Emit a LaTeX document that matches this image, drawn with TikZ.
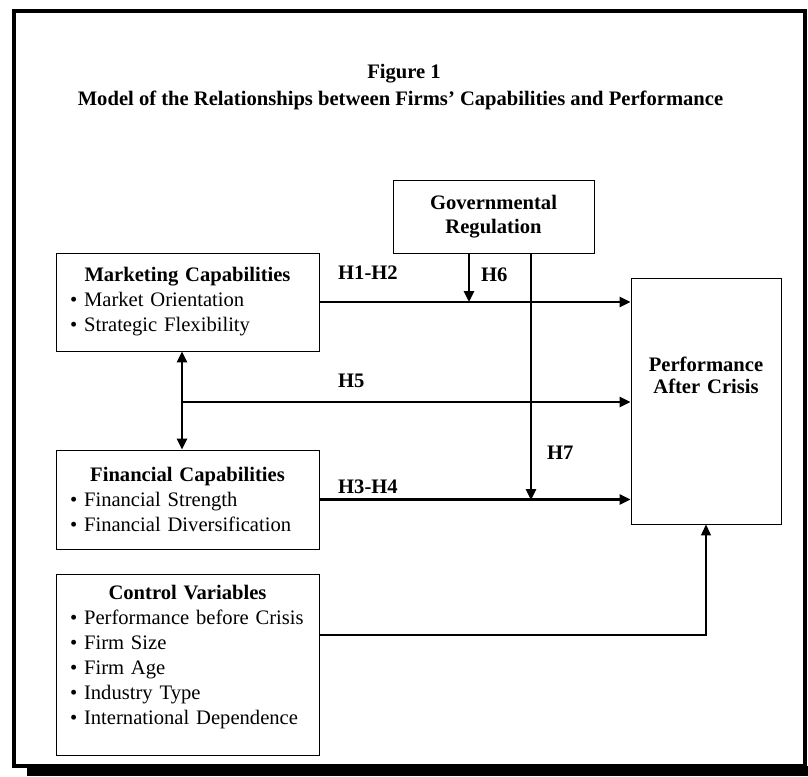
\documentclass[tikz,border=0pt]{standalone}
\usepackage{fontspec}
\setmainfont{Liberation Serif}
\usetikzlibrary{arrows.meta}

\begin{document}
\begin{tikzpicture}[x=1pt, y=-1pt,
    every node/.style={font=\fontsize{20.6}{25}\selectfont},
    box/.style={draw, line width=0.9pt, inner xsep=14pt, inner ysep=0pt, align=left},
    hbox/.style={draw, line width=0.9pt, inner xsep=0pt, inner ysep=0pt, align=center, font=\fontsize{20.6}{24}\selectfont\bfseries},
    arrow/.style={-{Triangle[length=11pt,width=10pt]}, line width=2.6pt},
    dblarrow/.style={{Triangle[length=11pt,width=10pt]}-{Triangle[length=11pt,width=10pt]}, line width=2.6pt},
    ctlarrow/.style={-{Triangle[length=11pt,width=10pt]}, line width=1.2pt},
    hyp/.style={font=\fontsize{20.6}{25}\selectfont\bfseries, anchor=base west, inner sep=0pt}
]
    \useasboundingbox (0,0) rectangle (808,776);
    % frame and its shadow
    \fill (27,766) rectangle (808,776);
    \draw[line width=4pt] (14,11) rectangle (805,766);

    % heading
    \node[font=\fontsize{20.6}{25}\selectfont\bfseries, anchor=base] (fig) at (404,78) {Figure 1};
    \node[font=\fontsize{20.6}{25}\selectfont\bfseries, anchor=base] (title) at (400.5,105)
        {Model of the Relationships between Firms’ Capabilities and Performance};

    % boxes
    \node[box, text width=235pt, minimum height=98pt] (mkt) at (187.5,302)
        {{\centering\bfseries Marketing Capabilities\par}
         \textbullet\ Market Orientation\\
         \textbullet\ Strategic Flexibility};
    \node[box, text width=235pt, minimum height=99pt] (fin) at (187.5,499.5)
        {{\centering\bfseries Financial Capabilities\par}
         \textbullet\ Financial Strength\\
         \textbullet\ Financial Diversification};
    \node[box, text width=235pt, minimum height=181pt] (ctrl) at (187.5,664.5)
        {{\centering\bfseries Control Variables\par}
         \textbullet\ Performance before Crisis\\
         \textbullet\ Firm Size\\
         \textbullet\ Firm Age\\
         \textbullet\ Industry Type\\
         \textbullet\ International Dependence\rule[-19.5pt]{0pt}{0pt}};
    \node[hbox, text width=201pt, minimum height=73pt] (gov) at (493.5,216.5)
        {Governmental\\Regulation};
    \node[hbox, text width=150pt, minimum height=246pt, font=\fontsize{20.6}{22}\selectfont\bfseries] (perf) at (706,401)
        {Performance\\After Crisis\rule[-52pt]{0pt}{0pt}};

    % hypotheses
    \node[hyp] (h12) at (338,279) {H1-H2};
    \node[hyp] (h5) at (338,387) {H5};
    \node[hyp] (h34) at (338,493) {H3-H4};
    \node[hyp] (h6) at (481,281) {H6};
    \node[hyp] (h7) at (547,459) {H7};

    % connectors
    \coordinate (j5) at (182,402);
    \coordinate (j6) at (469,302);
    \coordinate (j7) at (531,500);
    \coordinate (jc) at (706,635);
    \draw[arrow] (mkt.east) -- (mkt.east -| perf.west);
    \draw[arrow] (fin.east) -- (fin.east -| perf.west);
    \draw[dblarrow] (mkt.south -| j5) -- (fin.north -| j5);
    \draw[arrow] (j5) -- (j5 -| perf.west);
    \draw[arrow] (gov.south -| j6) -- (j6);
    \draw[arrow] (gov.south -| j7) -- (j7);
    \draw[ctlarrow] (ctrl.east |- jc) -- (jc) -- (perf.south);
\end{tikzpicture}
\end{document}
